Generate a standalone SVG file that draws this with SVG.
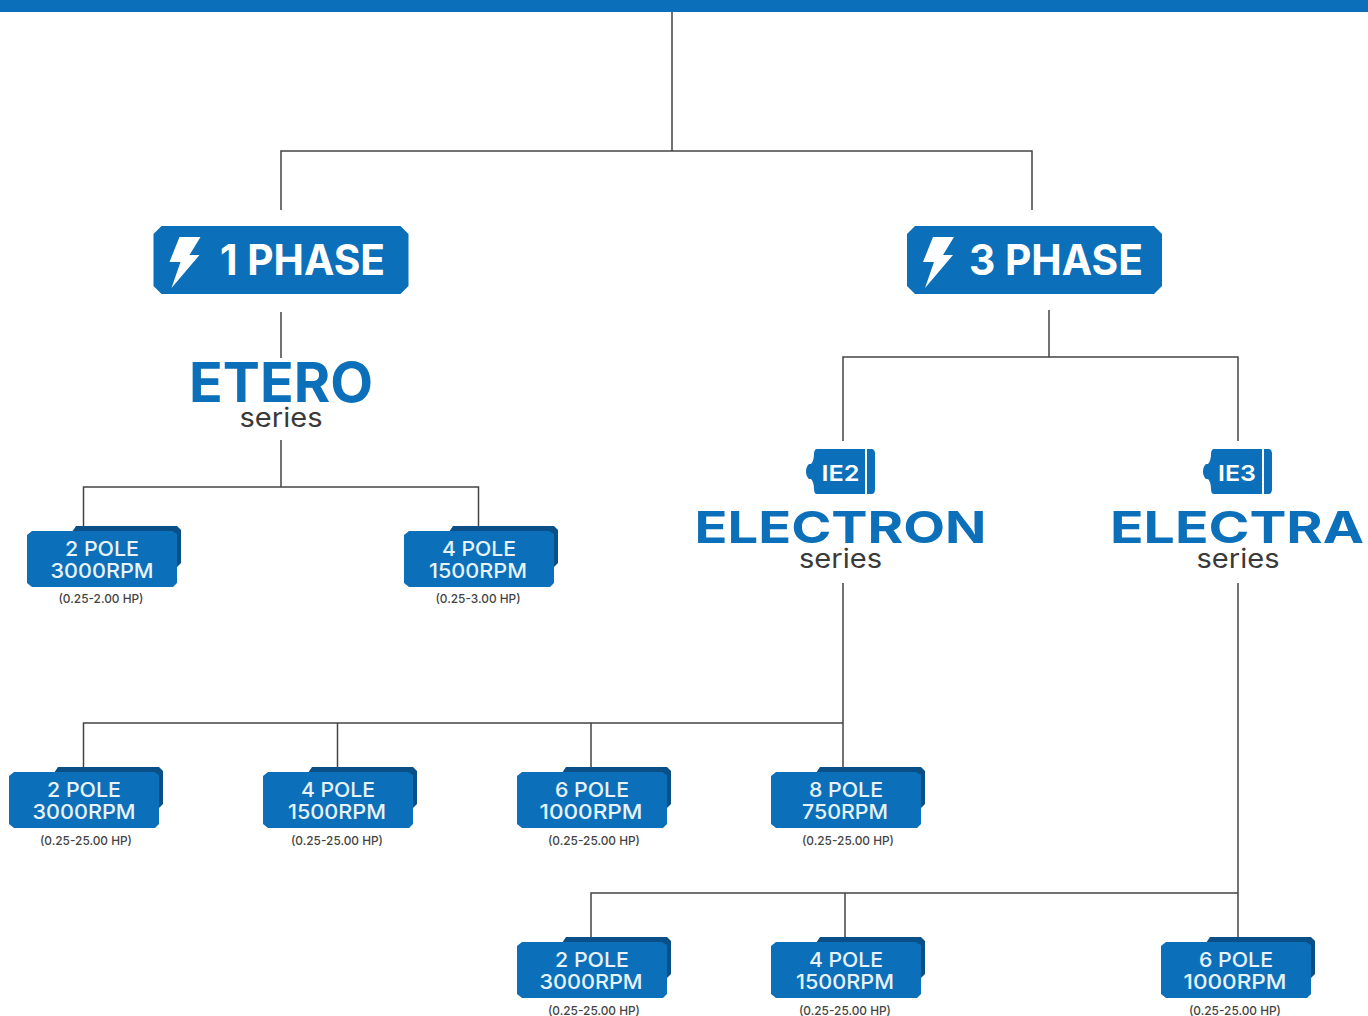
<svg xmlns="http://www.w3.org/2000/svg" xmlns:xlink="http://www.w3.org/1999/xlink" width="1368" height="1016" viewBox="0 0 1368 1016">
<style>
text{font-family:Inter,"Liberation Sans",sans-serif}
.ln{fill:none;stroke:#444;stroke-width:1.5}
.pt{font-size:20px;font-weight:500;fill:#e8f2fa;text-anchor:middle}
.hp{font-size:12px;font-weight:500;fill:#444;text-anchor:middle}
.hd{font-size:42px;font-weight:700;fill:#fff}
.sr{font-size:26px;font-weight:400;fill:#3a3a3a;text-anchor:middle}
.br{font-weight:700;fill:#0b70b9;text-anchor:middle}
.ie{font-size:22px;font-weight:600;fill:#fff;text-anchor:middle}
.blue{fill:#0b70b9}
.dark{fill:#0a4f86}
.bolt{fill:#fff}
</style>
<defs>
<g id="pole">
<path class="dark" d="M45 1L49-5H150L154-1V32L150 36H140V1Z"/>
<path class="blue" d="M5 0H145L150 3V52L146 56H5L0 52V4Z"/>
</g>
<g id="phase">
<path class="blue" d="M8 0H247L255 8V60L247 68H8L0 60V8Z"/>
<path class="bolt" d="M26 11H47L36 29H46L18 62L27 36H16Z"/>
</g>
<g id="motor">
<path class="blue" d="M9 0H57V45H9C7 45 6 43 6 40C6 36 5 32 3 30H1C-1 28-2 26-2 22.500C-2 19-1 17 1 15H3C5 13 6 9 6 5C6 2 7 0 9 0Z"/>
<path class="blue" d="M59 0H63C66 0 67 2 67 5V40C67 43 66 45 63 45H59Z"/>
</g>
</defs>
<rect width="1368" height="1016" fill="#fff"/>
<rect id="top-bar" x="0" y="0" width="1368" height="12" fill="#0b70b9"/>
<g id="connectors">
<path class="ln" d="M672 12V151M281 210V151H1032V210"/>
<path class="ln" d="M281 312V358M281 440V487M83.500 526V487H478.500V526"/>
<path class="ln" d="M1049 310V357M843 441V357H1238V441"/>
<path class="ln" d="M843 583V767M83.500 767V723H843M337.500 723V767M591 723V767"/>
<path class="ln" d="M1238 583V937M591 937V893H1238M845 893V937"/>
</g>
<g id="phase-1"><use href="#phase" x="153.500" y="226"/><text class="hd" x="220" y="275" textLength="165" lengthAdjust="spacingAndGlyphs">1 PHASE</text></g>
<g id="phase-3"><use href="#phase" x="907" y="226"/><text class="hd" x="969" y="275" textLength="174" lengthAdjust="spacingAndGlyphs">3 PHASE</text></g>
<g id="etero"><text class="br" x="281" y="402" font-size="55" font-weight="800" textLength="184" lengthAdjust="spacingAndGlyphs">ETERO</text><text class="sr" x="281" y="427" textLength="83" lengthAdjust="spacingAndGlyphs">series</text></g>
<g id="electron"><use href="#motor" x="808" y="449"/><text class="ie" x="840.500" y="481" textLength="38" lengthAdjust="spacingAndGlyphs">IE2</text><text class="br" x="840.500" y="543" font-size="44" textLength="292" lengthAdjust="spacingAndGlyphs">ELECTRON</text><text class="sr" x="840.500" y="568" textLength="83" lengthAdjust="spacingAndGlyphs">series</text></g>
<g id="electra"><use href="#motor" x="1205" y="449"/><text class="ie" x="1237" y="481" textLength="38" lengthAdjust="spacingAndGlyphs">IE3</text><text class="br" x="1237" y="543" font-size="44" textLength="254" lengthAdjust="spacingAndGlyphs">ELECTRA</text><text class="sr" x="1238" y="568" textLength="83" lengthAdjust="spacingAndGlyphs">series</text></g>
<g id="e1"><use href="#pole" x="27" y="531"/><text class="pt" x="102" y="556" textLength="74" lengthAdjust="spacingAndGlyphs">2 POLE</text><text class="pt" x="102" y="578" textLength="103" lengthAdjust="spacingAndGlyphs">3000RPM</text><text class="hp" x="101" y="603" textLength="85" lengthAdjust="spacingAndGlyphs">(0.25-2.00 HP)</text></g>
<g id="e2"><use href="#pole" x="404" y="531"/><text class="pt" x="479" y="556" textLength="74" lengthAdjust="spacingAndGlyphs">4 POLE</text><text class="pt" x="478" y="578" textLength="98" lengthAdjust="spacingAndGlyphs">1500RPM</text><text class="hp" x="478" y="603" textLength="85" lengthAdjust="spacingAndGlyphs">(0.25-3.00 HP)</text></g>
<g id="n1"><use href="#pole" x="9" y="772"/><text class="pt" x="84" y="797" textLength="74" lengthAdjust="spacingAndGlyphs">2 POLE</text><text class="pt" x="84" y="819" textLength="103" lengthAdjust="spacingAndGlyphs">3000RPM</text><text class="hp" x="86" y="845" textLength="92" lengthAdjust="spacingAndGlyphs">(0.25-25.00 HP)</text></g>
<g id="n2"><use href="#pole" x="263" y="772"/><text class="pt" x="338" y="797" textLength="74" lengthAdjust="spacingAndGlyphs">4 POLE</text><text class="pt" x="337" y="819" textLength="98" lengthAdjust="spacingAndGlyphs">1500RPM</text><text class="hp" x="337" y="845" textLength="92" lengthAdjust="spacingAndGlyphs">(0.25-25.00 HP)</text></g>
<g id="n3"><use href="#pole" x="517" y="772"/><text class="pt" x="592" y="797" textLength="74" lengthAdjust="spacingAndGlyphs">6 POLE</text><text class="pt" x="591" y="819" textLength="103" lengthAdjust="spacingAndGlyphs">1000RPM</text><text class="hp" x="594" y="845" textLength="92" lengthAdjust="spacingAndGlyphs">(0.25-25.00 HP)</text></g>
<g id="n4"><use href="#pole" x="771" y="772"/><text class="pt" x="846" y="797" textLength="74" lengthAdjust="spacingAndGlyphs">8 POLE</text><text class="pt" x="845" y="819" textLength="86" lengthAdjust="spacingAndGlyphs">750RPM</text><text class="hp" x="848" y="845" textLength="92" lengthAdjust="spacingAndGlyphs">(0.25-25.00 HP)</text></g>
<g id="a1"><use href="#pole" x="517" y="942"/><text class="pt" x="592" y="967" textLength="74" lengthAdjust="spacingAndGlyphs">2 POLE</text><text class="pt" x="591" y="989" textLength="103" lengthAdjust="spacingAndGlyphs">3000RPM</text><text class="hp" x="594" y="1015" textLength="92" lengthAdjust="spacingAndGlyphs">(0.25-25.00 HP)</text></g>
<g id="a2"><use href="#pole" x="771" y="942"/><text class="pt" x="846" y="967" textLength="74" lengthAdjust="spacingAndGlyphs">4 POLE</text><text class="pt" x="845" y="989" textLength="98" lengthAdjust="spacingAndGlyphs">1500RPM</text><text class="hp" x="845" y="1015" textLength="92" lengthAdjust="spacingAndGlyphs">(0.25-25.00 HP)</text></g>
<g id="a3"><use href="#pole" x="1161" y="942"/><text class="pt" x="1236" y="967" textLength="74" lengthAdjust="spacingAndGlyphs">6 POLE</text><text class="pt" x="1235" y="989" textLength="103" lengthAdjust="spacingAndGlyphs">1000RPM</text><text class="hp" x="1235" y="1015" textLength="92" lengthAdjust="spacingAndGlyphs">(0.25-25.00 HP)</text></g>
</svg>
